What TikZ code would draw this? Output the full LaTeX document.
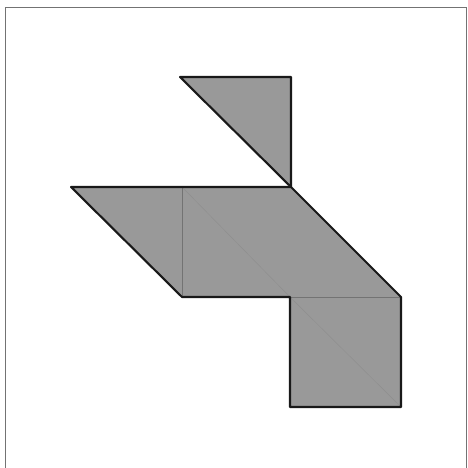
\documentclass[tikz,border=0pt]{standalone}
\usepackage{tikz}

\begin{document}
\begin{tikzpicture}[
  x=1pt, y=-1pt,
  piece/.style={fill=black!40, draw=none},
  edge/.style={draw=black!90, line width=2.1pt, line cap=round, line join=round},
  seam/.style={draw=black!55, line width=0.6pt},
  fold/.style={draw=black!45, line width=0.3pt},
  frame/.style={draw=black!55, line width=0.9pt}
]
\useasboundingbox (0,0) rectangle (467,468);
% frame
\draw[frame] (5,468) -- (5,7) -- (466,7) -- (466,468);
% corners of the pieces
\coordinate (a) at (180,77);
\coordinate (b) at (291,77);
\coordinate (c) at (291,187);
\coordinate (d) at (71,187);
\coordinate (e) at (182,187);
\coordinate (f) at (182,297);
\coordinate (g) at (290,297);
\coordinate (h) at (401,297);
\coordinate (i) at (401,407);
\coordinate (j) at (290,407);
% fills
\path[piece] (a) -- (b) -- (c) -- cycle;
\path[piece] (d) -- (c) -- (h) -- (i) -- (j) -- (g) -- (f) -- cycle;
% inner lines
\draw[seam] (e) -- (f);
\draw[seam] (g) -- (h);
\draw[fold] (e) -- (g);
\draw[fold] (g) -- (i);
% outlines
\draw[edge] (a) -- (b) -- (c) -- cycle;
\draw[edge] (d) -- (c) -- (h) -- (i) -- (j) -- (g) -- (f) -- cycle;
\end{tikzpicture}
\end{document}
